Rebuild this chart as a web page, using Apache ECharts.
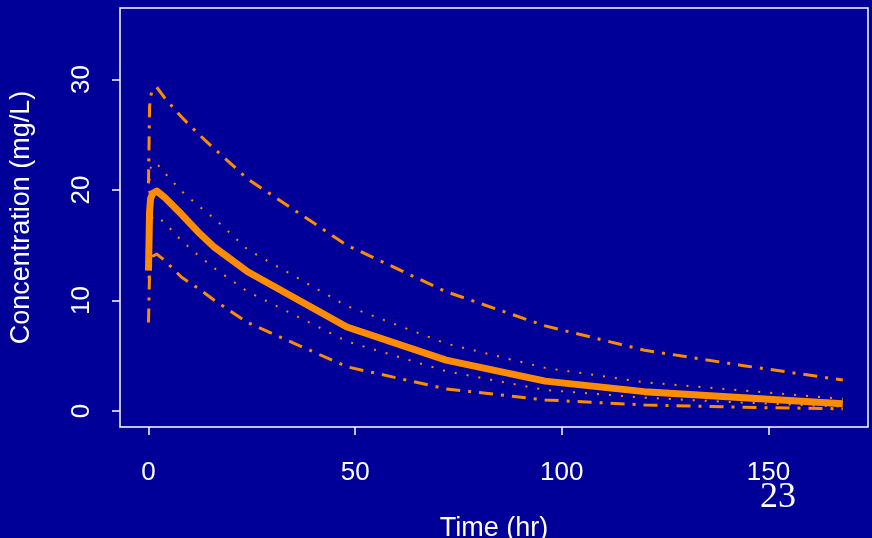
<!DOCTYPE html>
<html>
<head>
<meta charset="utf-8">
<script src="https://cdn.jsdelivr.net/npm/echarts@6/dist/echarts.min.js"></script>
<style>
html,body{margin:0;padding:0;background:#000099;}
#chart{width:872px;height:538px;}
</style>
</head>
<body>
<div id="chart"></div>
<script>
// Time points (hr)
const times = [0, 0.25, 0.5, 1, 2, 4, 8, 12, 16, 24, 48, 72, 96, 120, 144, 168];
// Median concentration (solid)
const median = [12.7, 18.0, 19.2, 19.7, 19.9, 19.3, 17.8, 16.2, 14.8, 12.6, 7.6, 4.6, 2.7, 1.75, 1.2, 0.65];
// Upper dotted band
const upperDot = [16.5, 21.0, 22.0, 22.4, 22.4, 21.5, 19.9, 18.6, 17.4, 14.6, 9.5, 6.1, 3.9, 2.6, 1.85, 1.1];
// Lower dotted band
const lowerDot = [12.0, 15.5, 17.0, 17.6, 17.6, 17.0, 15.4, 14.1, 12.9, 10.8, 6.3, 3.6, 1.9, 1.2, 0.75, 0.4];
// Upper dash-dot band
const upperDash = [20.6, 27.5, 28.5, 29.1, 29.3, 28.3, 26.6, 25.1, 23.7, 21.0, 15.0, 10.8, 7.7, 5.5, 4.1, 2.8];
// Lower dash-dot band
const lowerDash = [8.0, 12.5, 13.5, 14.0, 14.2, 13.6, 12.1, 11.1, 10.0, 8.0, 4.0, 2.0, 1.0, 0.55, 0.33, 0.2];
// Tick values
const xTicks = [0, 50, 100, 150];
const yTicks = [0, 10, 20, 30];
const pageLabel = '23';

const pair = arr => times.map((t, i) => [t, arr[i]]);
const ORANGE = '#FF8C00';
const chart = echarts.init(document.getElementById('chart'), null, {renderer: 'canvas'});
const font = 'Liberation Sans, Arial, sans-serif';

function lineSeries(name, arr, width, type) {
  return {
    name: name, type: 'line', data: pair(arr), symbol: 'none', smooth: false,
    lineStyle: {color: ORANGE, width: width, type: type, cap: 'butt', join: 'round'},
    silent: true, z: 3
  };
}

chart.setOption({
  backgroundColor: '#000099',
  animation: false,
  grid: {left: 120, top: 8, right: 4, bottom: 111, containLabel: false, outerBoundsMode: 'none',
         show: true, borderColor: '#ffffff', borderWidth: 1.5, backgroundColor: 'transparent'},
  xAxis: {
    type: 'value', min: -6.9, max: 174.1,
    name: 'Time (hr)', nameLocation: 'middle', nameGap: 88,
    nameTextStyle: {color: '#fff', fontSize: 27, fontFamily: font},
    axisLine: {show: false, onZero: false},
    splitLine: {show: false},
    axisTick: {show: true, inside: false, length: 8, lineStyle: {color: '#fff', width: 1.5}, customValues: xTicks},
    axisLabel: {color: '#fff', fontSize: 26, fontFamily: font, margin: 33, customValues: xTicks}
  },
  yAxis: {
    type: 'value', min: -1.45, max: 36.47,
    name: 'Concentration (mg/L)', nameLocation: 'middle', nameGap: 85,
    nameTextStyle: {color: '#fff', fontSize: 27, fontFamily: font},
    axisLine: {show: false, onZero: false},
    splitLine: {show: false},
    axisTick: {show: true, inside: false, length: 8, lineStyle: {color: '#fff', width: 1.5}, customValues: yTicks},
    axisLabel: {color: '#fff', fontSize: 26, fontFamily: font, margin: 25, rotate: 90, customValues: yTicks}
  },
  graphic: [{
    type: 'text', left: 760, top: 480,
    style: {text: pageLabel, fill: '#fff', font: '36px "Liberation Serif", "Times New Roman", serif'}
  }],
  series: [
    lineSeries('Median', median, 7, 'solid'),
    lineSeries('Upper dotted', upperDot, 2, [2, 10]),
    lineSeries('Lower dotted', lowerDot, 2, [2, 10]),
    lineSeries('Upper dash-dot', upperDash, 3, [14, 8, 3, 8]),
    lineSeries('Lower dash-dot', lowerDash, 3, [14, 8, 3, 8])
  ]
});
</script>
</body>
</html>
